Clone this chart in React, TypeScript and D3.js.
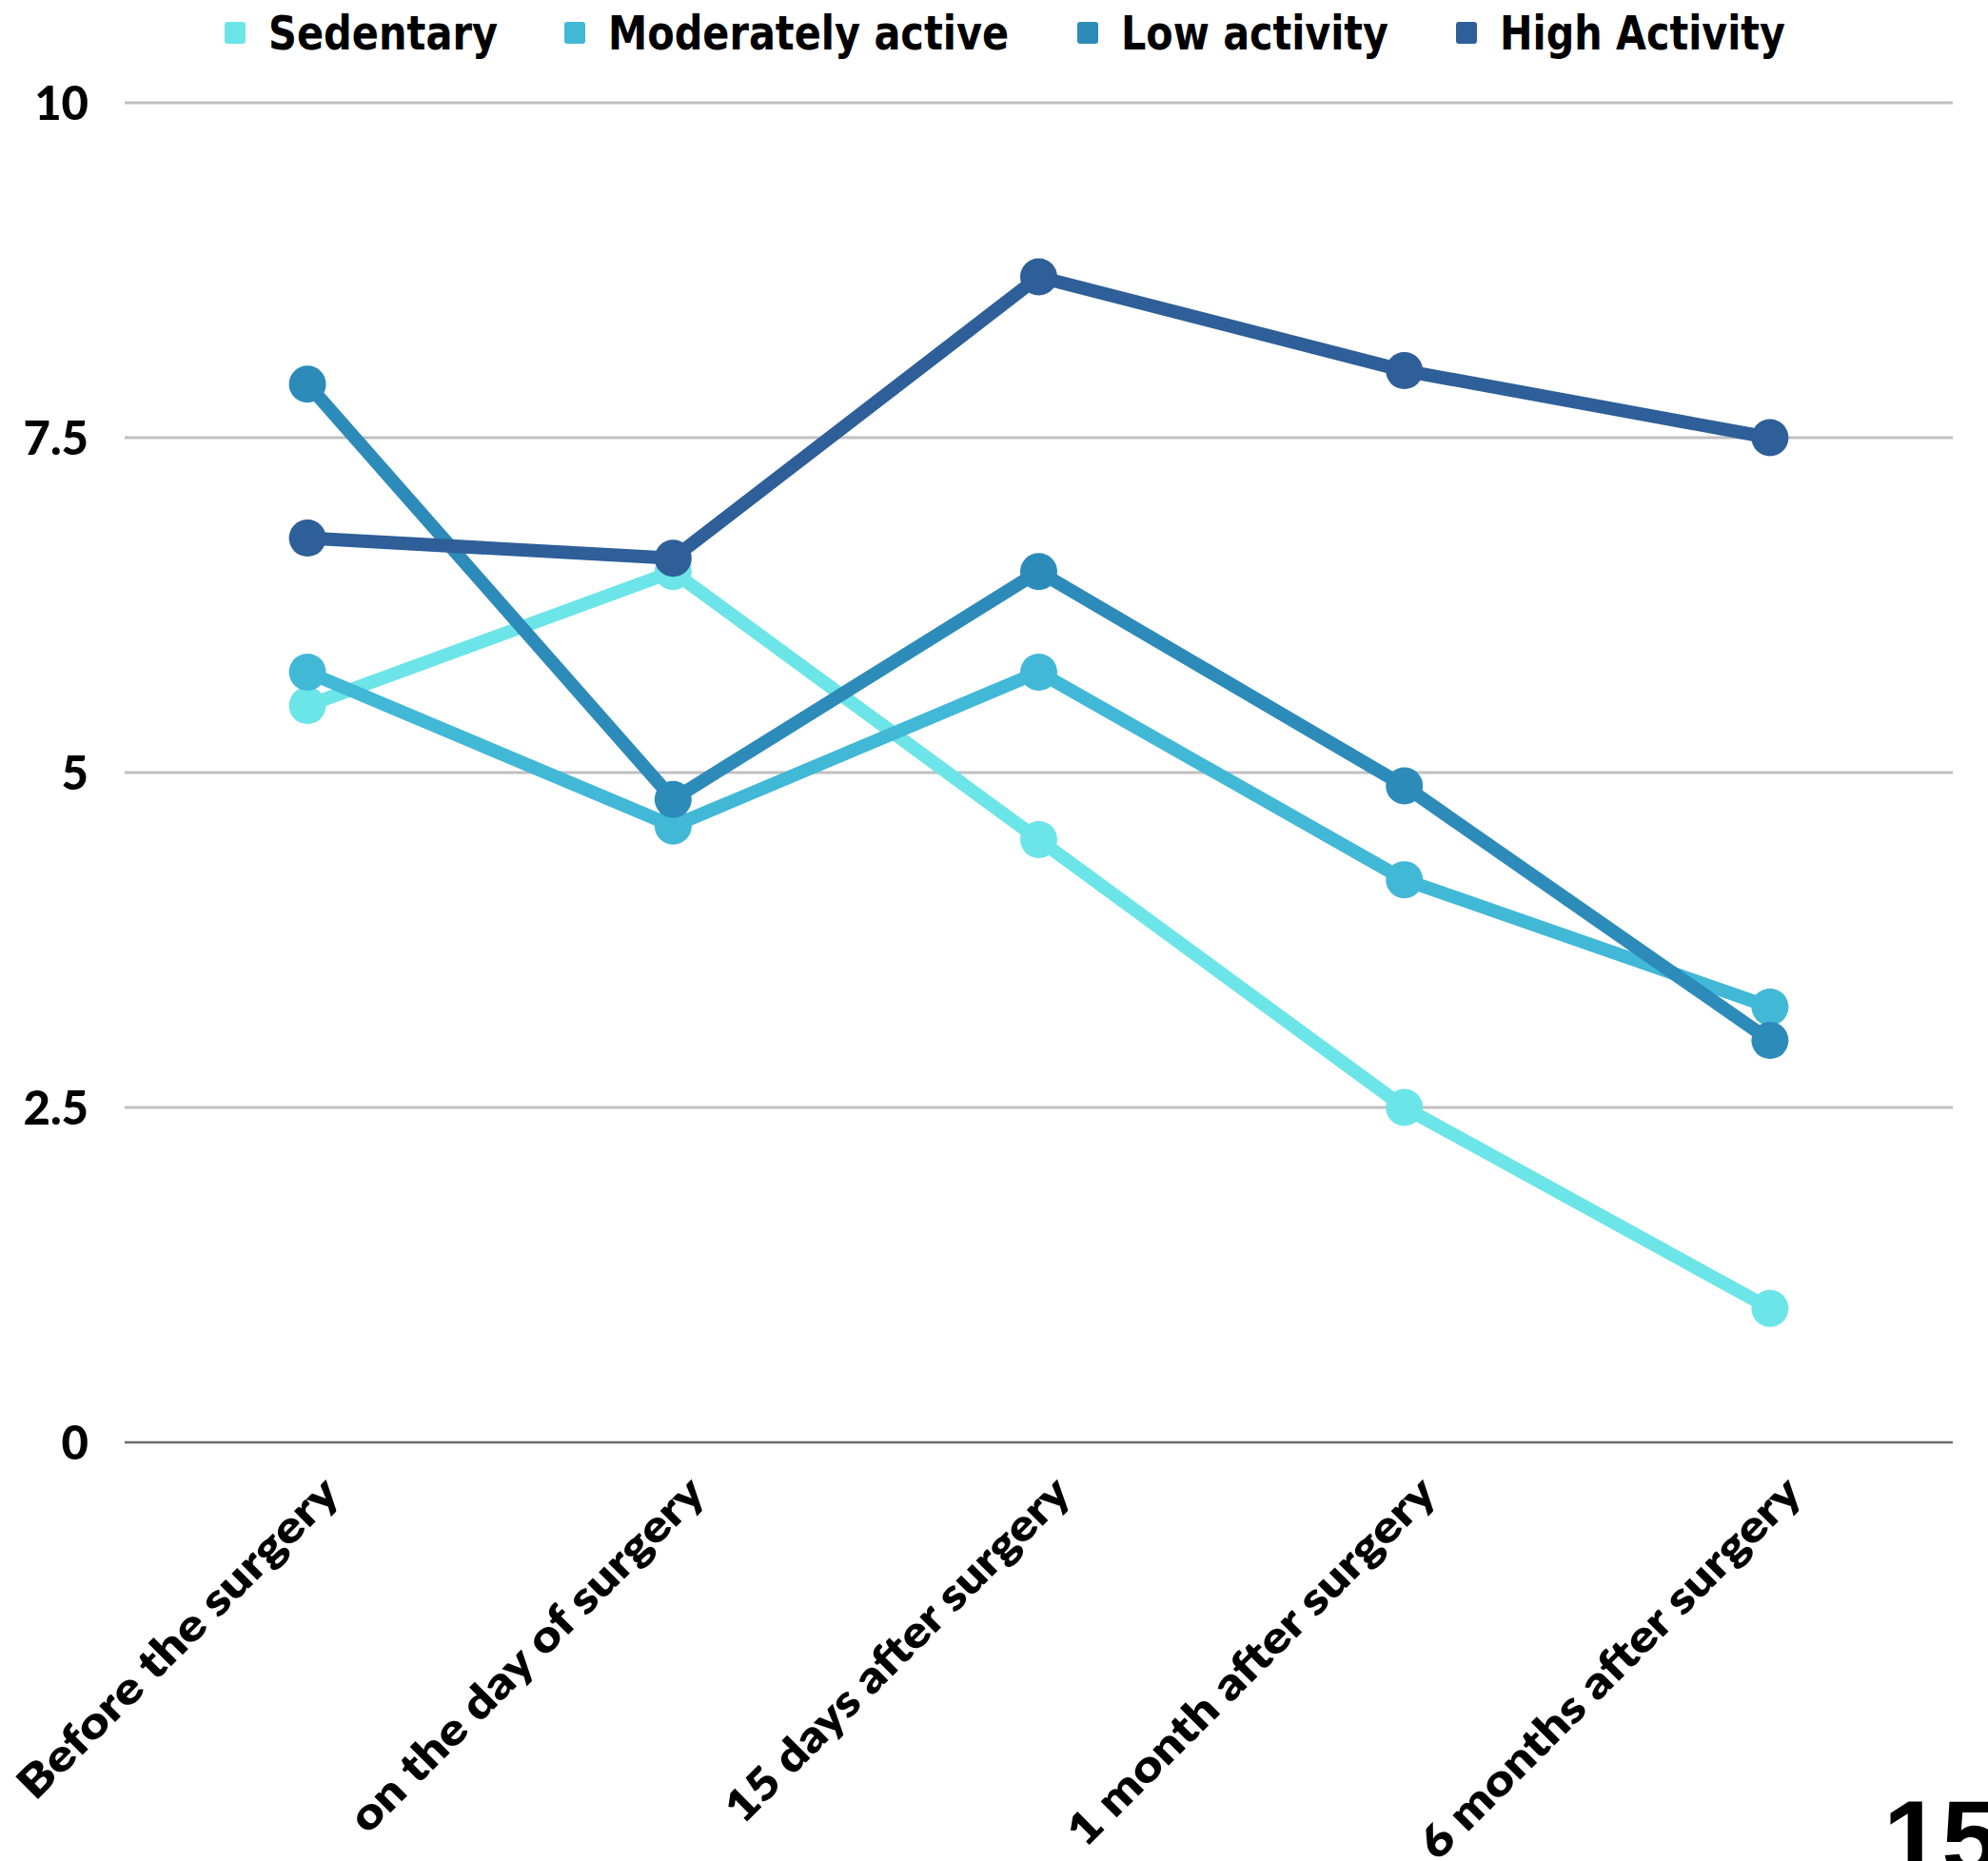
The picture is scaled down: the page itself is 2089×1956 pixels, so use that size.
import React, { useEffect, useRef } from "react";
import * as d3 from "d3";

const categories = [
  "Before the surgery",
  "on the day of surgery",
  "15 days after surgery",
  "1 month after surgery",
  "6 months after surgery",
];
const seriesNames = ["Sedentary", "Moderately active", "Low activity", "High Activity"];
const sedentary = [5.5, 6.5, 4.5, 2.5, 1.0];
const moderatelyActive = [5.75, 4.6, 5.75, 4.2, 3.25];
const lowActivity = [7.9, 4.8, 6.5, 4.9, 3.0];
const highActivity = [6.75, 6.6, 8.7, 8.0, 7.5];
const seriesColors = ["#6ce5e8", "#42b8d7", "#2d8bba", "#2e5f98"];
const yTicks = [0, 2.5, 5, 7.5, 10];
const cornerLabel = "15";

const W = 2089;
const H = 1956;

export default function App() {
  const ref = useRef<SVGSVGElement | null>(null);

  useEffect(() => {
    document.body.style.margin = "0";
    const svg = d3.select(ref.current);
    svg.selectAll("*").remove();

    const left = 131;
    const right = 2052;
    const top = 108;
    const bottom = 1516;

    const x = d3.scalePoint<string>().domain(categories).range([left, right]).padding(0.5);
    const y = d3.scaleLinear().domain([0, 10]).range([bottom, top]);

    // gridlines
    const grid = svg.append("g");
    yTicks.forEach((t) => {
      grid
        .append("line")
        .attr("x1", left)
        .attr("x2", right)
        .attr("y1", y(t))
        .attr("y2", y(t))
        .attr("stroke", t === 0 ? "#6a6a6a" : "#c0c0c0")
        .attr("stroke-width", t === 0 ? 2.5 : 3);
    });

    // y tick labels
    svg
      .append("g")
      .selectAll("text")
      .data(yTicks)
      .join("text")
      .attr("x", 93)
      .attr("y", (d) => y(d))
      .attr("dy", "0.36em")
      .attr("text-anchor", "end")
      .attr("font-family", "Lato, 'Open Sans', sans-serif")
      .attr("font-weight", 900)
      .attr("font-size", 49)
      .attr("fill", "#000")
      .text((d) => String(d));

    // x labels, rotated
    const xLabelLengths = [455, 505, 490, 525, 545];
    svg
      .append("g")
      .selectAll("text")
      .data(categories)
      .join("text")
      .attr("transform", (d) => `translate(${(x(d) as number) + 36},${bottom + 56}) rotate(-45)`)
      .attr("text-anchor", "end")
      .attr("font-family", "Lato, 'Open Sans', sans-serif")
      .attr("font-weight", 800)
      .attr("font-size", 46)
      .attr("textLength", (_d, i) => xLabelLengths[i])
      .attr("lengthAdjust", "spacingAndGlyphs")
      .attr("fill", "#000")
      .text((d) => d);

    // series
    const allSeries = [sedentary, moderatelyActive, lowActivity, highActivity];
    const line = d3
      .line<number>()
      .x((_d, i) => x(categories[i]) as number)
      .y((d) => y(d));

    allSeries.forEach((values, si) => {
      const g = svg.append("g");
      g.append("path")
        .attr("d", line(values) as string)
        .attr("fill", "none")
        .attr("stroke", seriesColors[si])
        .attr("stroke-width", 14)
        .attr("stroke-linejoin", "round");
      g.selectAll("circle")
        .data(values)
        .join("circle")
        .attr("cx", (_d, i) => x(categories[i]) as number)
        .attr("cy", (d) => y(d))
        .attr("r", 19.5)
        .attr("fill", seriesColors[si]);
    });

    // legend
    const legendX = [236, 593, 1132, 1530];
    const legendW = [241, 421, 281, 300];
    const legend = svg.append("g");
    seriesNames.forEach((name, i) => {
      legend
        .append("rect")
        .attr("x", legendX[i])
        .attr("y", 23)
        .attr("width", 22)
        .attr("height", 23)
        .attr("rx", 3)
        .attr("fill", seriesColors[i]);
      legend
        .append("text")
        .attr("x", legendX[i] + 46)
        .attr("y", 52)
        .attr("font-family", "'Liberation Sans Narrow', 'DejaVu Sans Condensed', 'Roboto', sans-serif")
        .attr("font-weight", 700)
        .attr("font-size", 49)
        .attr("textLength", legendW[i])
        .attr("lengthAdjust", "spacingAndGlyphs")
        .attr("fill", "#000")
        .text(name);
    });

    // corner number
    svg
      .append("text")
      .attr("x", 1979)
      .attr("y", 1969)
      .attr("font-family", "'Liberation Sans', Arial, sans-serif")
      .attr("font-weight", 700)
      .attr("font-size", 110)
      .attr("fill", "#000")
      .text(cornerLabel);
  }, []);

  return (
    <svg
      ref={ref}
      width={W}
      height={H}
      viewBox={`0 0 ${W} ${H}`}
      style={{ display: "block", position: "absolute", left: 0, top: 0, background: "#fff" }}
    />
  );
}
